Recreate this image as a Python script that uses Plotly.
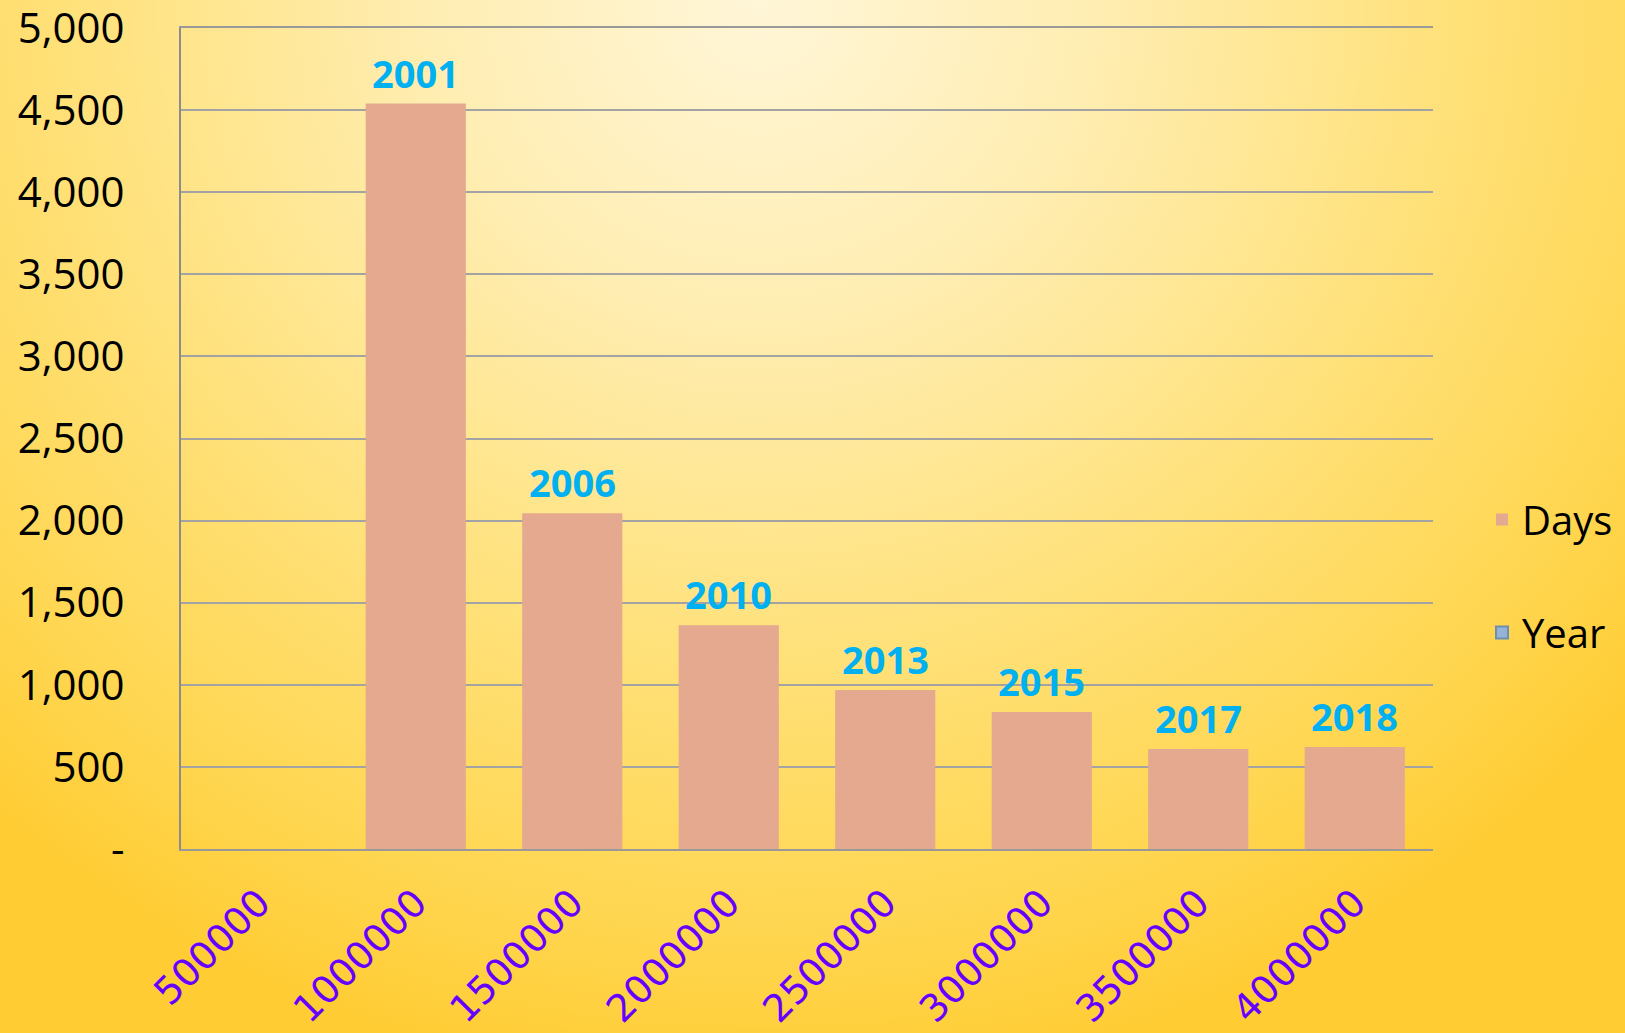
import base64
import plotly.graph_objects as go

categories = ["500000", "1000000", "1500000", "2000000", "2500000", "3000000", "3500000", "4000000"]
days = [None, 4540, 2045, 1362, 968, 835, 609, 621]
years = [None, 2001, 2006, 2010, 2013, 2015, 2017, 2018]
y_tickvals = [0, 500, 1000, 1500, 2000, 2500, 3000, 3500, 4000, 4500, 5000]
y_ticktext = ["-", "500", "1,000", "1,500", "2,000", "2,500", "3,000", "3,500", "4,000", "4,500", "5,000"]

W, H = 1625, 1033
L, R, T, B = 181, 192, 28, 184
pw, ph = W - L - R, H - T - B

svg = f'''<svg xmlns="http://www.w3.org/2000/svg" width="{W}" height="{H}" viewBox="0 0 {W} {H}" preserveAspectRatio="none">
<defs><radialGradient id="g" gradientUnits="userSpaceOnUse" cx="760" cy="0" r="1150" gradientTransform="translate(760 0) scale(1 0.95) translate(-760 0)">
<stop offset="0" stop-color="#FFF6D8"/>
<stop offset="0.3" stop-color="#FFEDB0"/>
<stop offset="0.6" stop-color="#FFE17A"/>
<stop offset="0.85" stop-color="#FFD650"/>
<stop offset="1" stop-color="#FFCC33"/>
</radialGradient></defs>
<rect x="0" y="0" width="{W}" height="{H}" fill="url(#g)"/></svg>'''
src = "data:image/svg+xml;base64," + base64.b64encode(svg.encode()).decode()

fig = go.Figure()
fig.add_trace(go.Bar(
    x=categories, y=days, name="Days", marker=dict(color="#E4A98F", line=dict(width=0)),
    width=0.64, legendgroup="a",
))
fig.add_trace(go.Bar(
    x=categories, y=[None] * len(categories), name="Year",
    marker=dict(color="#95B3D7", line=dict(color="#6F8FB2", width=2)),
    legendgroup="b",
))

for i, (d, yr) in enumerate(zip(days, years)):
    if d is None:
        continue
    fig.add_annotation(
        x=i, y=d, xref="x", yref="y", text=f"<b>{yr}</b>", showarrow=False,
        yanchor="bottom", yshift=3,
        font=dict(family="Open Sans", size=38, color="#00B0F0"),
    )

fig.add_layout_image(dict(
    source=src, xref="paper", yref="paper", x=-L / pw, y=1 + T / ph,
    sizex=W / pw, sizey=H / ph, xanchor="left", yanchor="top",
    sizing="stretch", layer="below",
))

fig.update_layout(
    width=W, height=H,
    margin=dict(l=L, r=R, t=T, b=B, pad=0, autoexpand=False),
    paper_bgcolor="#FFD650",
    plot_bgcolor="rgba(0,0,0,0)",
    barmode="overlay",
    showlegend=True,
    legend=dict(
        x=(1482 - L) / pw, xanchor="left", y=(H - B - 576) / ph, yanchor="middle",
        font=dict(family="Open Sans", size=40, color="#000000"),
        bgcolor="rgba(0,0,0,0)", traceorder="grouped", tracegroupgap=58,
    ),
    font=dict(family="Open Sans"),
)
fig.update_xaxes(
    type="category", showgrid=False, showline=True, linecolor="#999999", linewidth=2,
    mirror=True,
    tickangle=-45, ticks="", ticklabelstandoff=14, automargin=False,
    tickfont=dict(family="DejaVu Sans", size=38, color="#6600FF"),
    range=[-0.5, 7.5], zeroline=False, ticklabeloverflow="allow",
)
fig.update_yaxes(
    range=[0, 5000], tickvals=y_tickvals, ticktext=y_ticktext,
    showgrid=True, gridcolor="#A3A3A3", gridwidth=1.5,
    showline=True, linecolor="#8C8C8C", linewidth=2, zeroline=False,
    ticks="", ticklabelstandoff=46, automargin=False, ticklabeloverflow="allow",
    tickfont=dict(family="Open Sans", size=42, color="#000000"),
)

fig.write_html("out.html")
